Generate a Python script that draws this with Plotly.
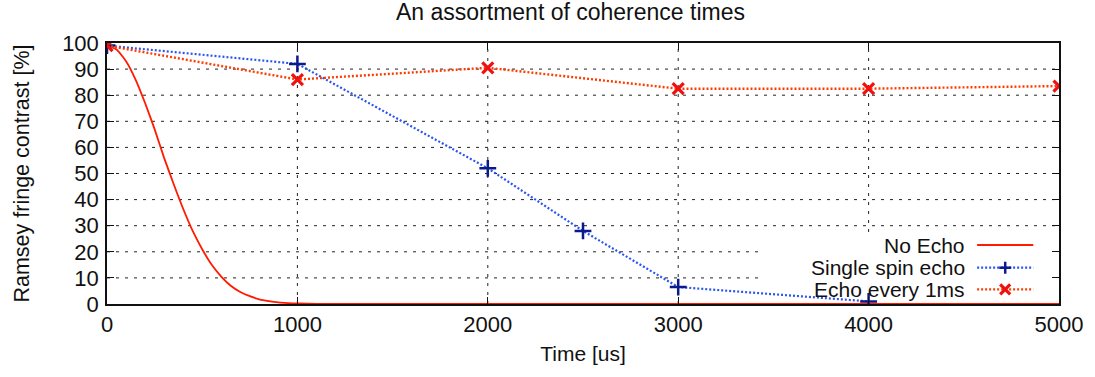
import plotly.graph_objects as go

# Time axis in microseconds, contrast in percent
no_echo_t = [0, 50, 100, 150, 200, 250, 300, 350, 400, 450, 500, 550, 600,
             650, 700, 750, 800, 850, 900, 950, 1000, 1100, 1200, 2000, 3000, 4000, 5000]
no_echo_c = [99, 97.5, 93, 86, 77, 67, 56, 46, 36.5, 28, 21, 15, 10.5,
             7, 4.6, 3, 1.8, 1.1, 0.6, 0.35, 0.2, 0.05, 0, 0, 0, 0, 0]

single_t = [0, 1000, 2000, 2500, 3000, 4000]
single_c = [99, 92, 52, 28, 6.5, 1]

every_t = [0, 1000, 2000, 3000, 4000, 5000]
every_c = [99, 86, 90.5, 82.5, 82.5, 83.5]

x_ticks = [0, 1000, 2000, 3000, 4000, 5000]
y_ticks = [0, 10, 20, 30, 40, 50, 60, 70, 80, 90, 100]

FONT = "Liberation Sans, Arial, Helvetica, sans-serif"
INK = "#111"

NO_ECHO_COLOR = "#ff1a00"
SINGLE_COLOR = "#2a55f0"
SINGLE_MARK = "#0a1a8c"
EVERY_COLOR = "#ff3c00"
EVERY_MARK = "#f01010"
DOTS = "2px,2px"
GRID = dict(color="#222", width=1, dash="3px,6px")

fig = go.Figure()

fig.add_trace(go.Scatter(
    x=no_echo_t, y=no_echo_c, name="No Echo", mode="lines",
    line=dict(color=NO_ECHO_COLOR, width=1.8, shape="spline", smoothing=0.5),
))
fig.add_trace(go.Scatter(
    x=single_t, y=single_c, name="Single spin echo", mode="lines+markers",
    line=dict(color=SINGLE_COLOR, width=2.2, dash=DOTS),
    marker=dict(symbol="cross-thin", size=12, color=SINGLE_MARK,
                line=dict(color=SINGLE_MARK, width=2.5)),
))
fig.add_trace(go.Scatter(
    x=every_t, y=every_c, name="Echo every 1ms", mode="lines+markers",
    line=dict(color=EVERY_COLOR, width=2.4, dash=DOTS),
    marker=dict(symbol="x-thin", size=11, color=EVERY_MARK,
                line=dict(color=EVERY_MARK, width=3.2)),
))

axis_common = dict(
    showline=True, linecolor=INK, linewidth=1.5, mirror="allticks",
    ticks="inside", ticklen=7, tickcolor=INK, tickwidth=1,
    showgrid=False, zeroline=False,
    tickfont=dict(family=FONT, size=22, color=INK),
)

fig.update_xaxes(
    range=[0, 5000], tickvals=x_ticks, ticktext=[str(v) for v in x_ticks],
    title=dict(text="Time [us]", font=dict(family=FONT, size=21, color=INK), standoff=10),
    **axis_common,
)
fig.update_yaxes(
    range=[0, 100], tickvals=y_ticks, ticktext=[str(v) for v in y_ticks],
    title=dict(text="Ramsey fringe contrast [%]", font=dict(family=FONT, size=21.5, color=INK), standoff=27),
    ticklabelstandoff=2,
    **axis_common,
)

# Dashed grid at the tick positions, drawn as shapes so the key panel can cover it
shapes = []
for v in x_ticks[1:-1]:
    shapes.append(dict(type="line", xref="x", yref="paper", x0=v, x1=v, y0=0, y1=1,
                       line=GRID, layer="below"))
for v in y_ticks[1:-1]:
    shapes.append(dict(type="line", xref="paper", yref="y", x0=0, x1=1, y0=v, y1=v,
                       line=GRID, layer="below"))

# Key in the lower right corner: text right-aligned, sample line to its right.
# The white panel sits over the grid but under the curves.
shapes.append(dict(type="rect", xref="paper", yref="paper", x0=0.686, x1=0.997, y0=0.004, y1=0.273,
                   fillcolor="white", line=dict(width=0), layer="below"))
annotations = []
key_rows = [
    ("No Echo", NO_ECHO_COLOR, "solid", None, None, 0.226),
    ("Single spin echo", SINGLE_COLOR, DOTS, "plus", SINGLE_MARK, 0.139),
    ("Echo every 1ms", EVERY_COLOR, DOTS, "cross", EVERY_MARK, 0.056),
]
text_right, line_x0, line_x1 = 0.9035, 0.914, 0.973
mark_x = (line_x0 + line_x1) / 2
for label, color, dash, mark, mark_color, ky in key_rows:
    annotations.append(dict(text=label, xref="paper", yref="paper", x=text_right, y=ky,
                            xanchor="right", yanchor="middle", showarrow=False,
                            font=dict(family=FONT, size=21, color=INK)))
    shapes.append(dict(type="line", xref="paper", yref="paper", x0=line_x0, x1=line_x1,
                       y0=ky, y1=ky, line=dict(color=color, width=2.2 if dash != "solid" else 1.8,
                                               dash=dash), layer="above"))
    if mark == "plus":
        segs = [(-6, 6, 0, 0), (0, 0, -6, 6)]
        w = 2.5
    elif mark == "cross":
        segs = [(-5, 5, -5, 5), (-5, 5, 5, -5)]
        w = 3.2
    else:
        segs = []
        w = 0
    for sx0, sx1, sy0, sy1 in segs:
        shapes.append(dict(type="line", xref="paper", yref="paper",
                           xsizemode="pixel", ysizemode="pixel",
                           xanchor=mark_x, yanchor=ky,
                           x0=sx0, x1=sx1, y0=sy0, y1=sy1,
                           line=dict(color=mark_color, width=w), layer="above"))

fig.update_layout(
    width=1095, height=377,
    margin=dict(l=107, r=33, t=43, b=73),
    paper_bgcolor="white", plot_bgcolor="white",
    title=dict(text="An assortment of coherence times", x=0.521, xanchor="center",
               y=0.968, yanchor="middle",
               font=dict(family=FONT, size=23, color=INK)),
    showlegend=False,
    shapes=shapes,
    annotations=annotations,
)

fig.write_html("out.html")
